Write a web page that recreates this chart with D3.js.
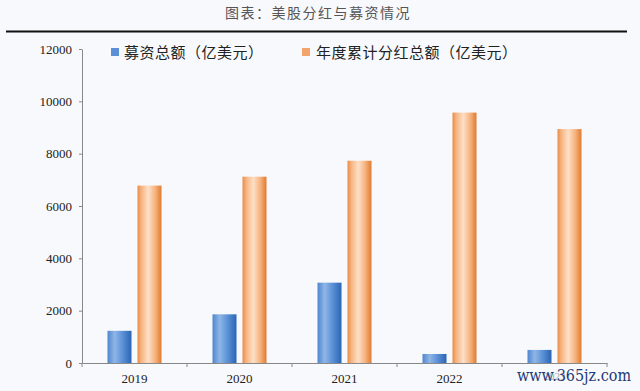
<!DOCTYPE html>
<html>
<head>
<meta charset="utf-8">
<script src="https://cdn.jsdelivr.net/npm/d3@7"></script>
<style>
  html, body { margin: 0; padding: 0; background: #f8f9fc; }
  svg { display: block; }
</style>
</head>
<body>
<svg id="chart" width="640" height="391"></svg>
<script>
const categories = ["2019", "2020", "2021", "2022", "2023"];
const seriesNames = ["募资总额（亿美元）", "年度累计分红总额（亿美元）"];
const fundraising = [1230, 1860, 3070, 345, 500];
const dividends = [6780, 7120, 7730, 9570, 8940];
const yTicks = [0, 2000, 4000, 6000, 8000, 10000, 12000];
const titleText = "图表：美股分红与募资情况";
const watermark = "www.365jz.com";

const svg = d3.select("#chart");
const W = 640, H = 391;
const m = { left: 82, right: 33, top: 49, bottom: 28 };

svg.append("rect").attr("width", W).attr("height", H).attr("fill", "#f8f9fc");

// gradients
const defs = svg.append("defs");
function grad(id, stops) {
  const g = defs.append("linearGradient").attr("id", id)
    .attr("x1", "0%").attr("x2", "100%").attr("y1", "0%").attr("y2", "0%");
  stops.forEach(([o, c]) => g.append("stop").attr("offset", o).attr("stop-color", c));
}
grad("gBlue", [["0%", "#4f86cf"], ["30%", "#8fb6e6"], ["60%", "#5f94d8"], ["100%", "#2a64b4"]]);
grad("gOrange", [["0%", "#e88b47"], ["15%", "#f7b27d"], ["45%", "#fde0c8"], ["75%", "#f6b07a"], ["100%", "#e07a30"]]);
const fills = ["url(#gBlue)", "url(#gOrange)"];
const legendColors = ["#5b8fd6", "#f2a46a"];

// title
svg.append("text").attr("x", 318).attr("y", 18).attr("text-anchor", "middle")
  .attr("font-family", "'Noto Sans CJK SC', sans-serif").attr("font-size", 14)
  .attr("letter-spacing", 1.5).attr("fill", "#555").text(titleText);
svg.append("line").attr("x1", 6).attr("x2", 627).attr("y1", 31.5).attr("y2", 31.5)
  .attr("stroke", "#111").attr("stroke-width", 2);

const x0 = d3.scaleBand().domain(categories).range([m.left, W - m.right]).padding(0);
const bw = x0.bandwidth();
const x1 = d3.scaleBand().domain([0, 1]).range([bw / 2 - 27, bw / 2 + 27]).paddingInner(0.2).paddingOuter(0);
const y = d3.scaleLinear().domain([0, 12000]).range([H - m.bottom, m.top]);

const data = categories.map((c, i) => ({ cat: c, vals: [fundraising[i], dividends[i]] }));

const g = svg.append("g");
g.selectAll("g.cat").data(data).join("g").attr("class", "cat")
  .attr("transform", d => `translate(${x0(d.cat)},0)`)
  .selectAll("rect").data(d => d.vals.map((v, k) => ({ v, k })))
  .join("rect")
  .attr("x", d => x1(d.k)).attr("width", x1.bandwidth())
  .attr("y", d => y(d.v)).attr("height", d => y(0) - y(d.v))
  .attr("fill", d => fills[d.k]);

// y axis
const yAxis = d3.axisLeft(y).tickValues(yTicks).tickSize(3).tickSizeOuter(0).tickFormat(d3.format("d"));
const ya = svg.append("g").attr("transform", `translate(${m.left},0)`).call(yAxis);
ya.select(".domain").attr("stroke", "#888");
ya.selectAll(".tick line").attr("stroke", "#888");
ya.selectAll(".tick text").attr("font-family", "'Liberation Serif', serif").attr("font-size", 13)
  .attr("fill", "#222").attr("x", -10);

// x axis
const xAxis = d3.axisBottom(x0).tickSize(0).tickSizeOuter(0);
const xa = svg.append("g").attr("transform", `translate(0,${y(0)})`).call(xAxis);
xa.select(".domain").attr("stroke", "#888");
xa.selectAll(".tick text").attr("font-family", "'Liberation Serif', serif").attr("font-size", 13)
  .attr("fill", "#222").attr("dy", "1.3em");
xa.selectAll(".tick text").filter(d => d === "2023").attr("fill", "#aaa").attr("font-size", 11);
// category boundary ticks
xa.selectAll("line.sep").data(categories.concat(["end"])).join("line").attr("class", "sep")
  .attr("x1", (d, i) => m.left + i * bw).attr("x2", (d, i) => m.left + i * bw)
  .attr("y1", 0).attr("y2", 4).attr("stroke", "#888");

// legend
const leg = [{ x: 111, tx: 124 }, { x: 302, tx: 316 }];
leg.forEach((l, i) => {
  svg.append("rect").attr("x", l.x).attr("y", 48).attr("width", 8).attr("height", 8).attr("fill", legendColors[i]);
  svg.append("text").attr("x", l.tx).attr("y", 57.5)
    .attr("font-family", "'Noto Sans CJK SC', sans-serif").attr("font-size", 15)
    .attr("letter-spacing", 0.5).attr("fill", "#222").text(seriesNames[i]);
});

// watermark
svg.append("text").attr("x", 517).attr("y", 381)
  .attr("font-family", "'DejaVu Serif', serif").attr("font-size", 16)
  .attr("textLength", 114).attr("lengthAdjust", "spacingAndGlyphs")
  .attr("fill", "#1d3a78").text(watermark);
</script>
</body>
</html>
